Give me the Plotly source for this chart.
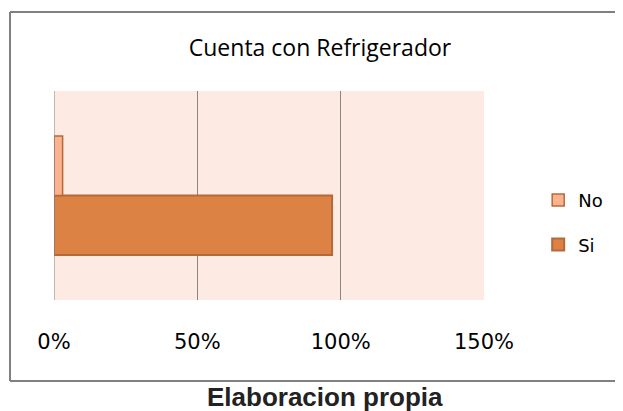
import plotly.graph_objects as go

category = ["Cuenta con Refrigerador"]
series_names = ["Si", "No"]
si_values = [97]
no_values = [3]
tick_values = [0, 50, 100, 150]
tick_labels = ["0%", "50%", "100%", "150%"]
title_text = "Cuenta con Refrigerador"
caption_text = "Elaboracion propia"

OFF = 8  # page body margin
W, H = 623 - OFF, 411 - OFF

fig = go.Figure()
fig.add_trace(go.Bar(
    name=series_names[0], y=category, x=si_values, orientation="h",
    marker=dict(color="#DB8244", line=dict(color="#B5693A", width=2)),
    legendgroup="si", legendrank=2,
))
fig.add_trace(go.Bar(
    name=series_names[1], y=category, x=no_values, orientation="h",
    marker=dict(color="#FBB38F", line=dict(color="#B5693A", width=1.5)),
    legendgroup="no", legendrank=1,
))

fig.update_layout(
    width=W, height=H,
    margin=dict(l=54-OFF, r=139, t=91-OFF, b=111),
    paper_bgcolor="white",
    plot_bgcolor="#FDEAE3",
    barmode="group",
    bargap=0.43,
    bargroupgap=0,
    showlegend=True,
    title=dict(text=title_text, x=(320-OFF)/W, xref="container", xanchor="center",
               y=1-(48-OFF)/H, yref="container", yanchor="middle",
               font=dict(family="Open Sans", size=23, color="#000000")),
    legend=dict(traceorder="grouped", tracegroupgap=18,
                x=1.126, xanchor="left", y=0.565, yanchor="top",
                bgcolor="rgba(0,0,0,0)",
                font=dict(family="DejaVu Sans", size=18, color="#000000")),
    xaxis=dict(range=[0, 150], tickvals=tick_values, ticktext=tick_labels,
               showgrid=True, gridcolor="#868686", gridwidth=1,
               zeroline=False, showline=False, ticks="",
               ticklabelstandoff=27,
               tickfont=dict(family="DejaVu Sans", size=21, color="#000000")),
    yaxis=dict(showticklabels=False, showgrid=False, zeroline=False,
               showline=False, ticks=""),
    font=dict(family="DejaVu Sans"),
)

# outer chart frame: left, top and bottom edges (right edge lies outside the crop)
fx0, fx1 = (10-54)/430, (640-54)/430
fy0, fy1 = (300-381)/209, (300-12)/209
frame = dict(color="#808080", width=2)
fig.add_shape(type="line", xref="paper", yref="paper", x0=fx0, x1=fx0, y0=fy0, y1=fy1, line=frame)
fig.add_shape(type="line", xref="paper", yref="paper", x0=fx0, x1=fx1, y0=fy1, y1=fy1, line=frame)
fig.add_shape(type="line", xref="paper", yref="paper", x0=fx0, x1=fx1, y0=fy0, y1=fy0, line=frame)
# axis line at 0 (left edge of plot)
fig.add_shape(type="line", xref="x", yref="paper", x0=0, x1=0, y0=0, y1=1,
              line=dict(color="#868686", width=1))

fig.add_annotation(text=caption_text, xref="paper", yref="paper",
                   x=(325-54)/430, y=(300-397)/209, xanchor="center", yanchor="middle",
                   showarrow=False,
                   font=dict(family="Liberation Sans", size=26, color="#222222",
                             weight="bold"))

fig.write_html("out.html")
